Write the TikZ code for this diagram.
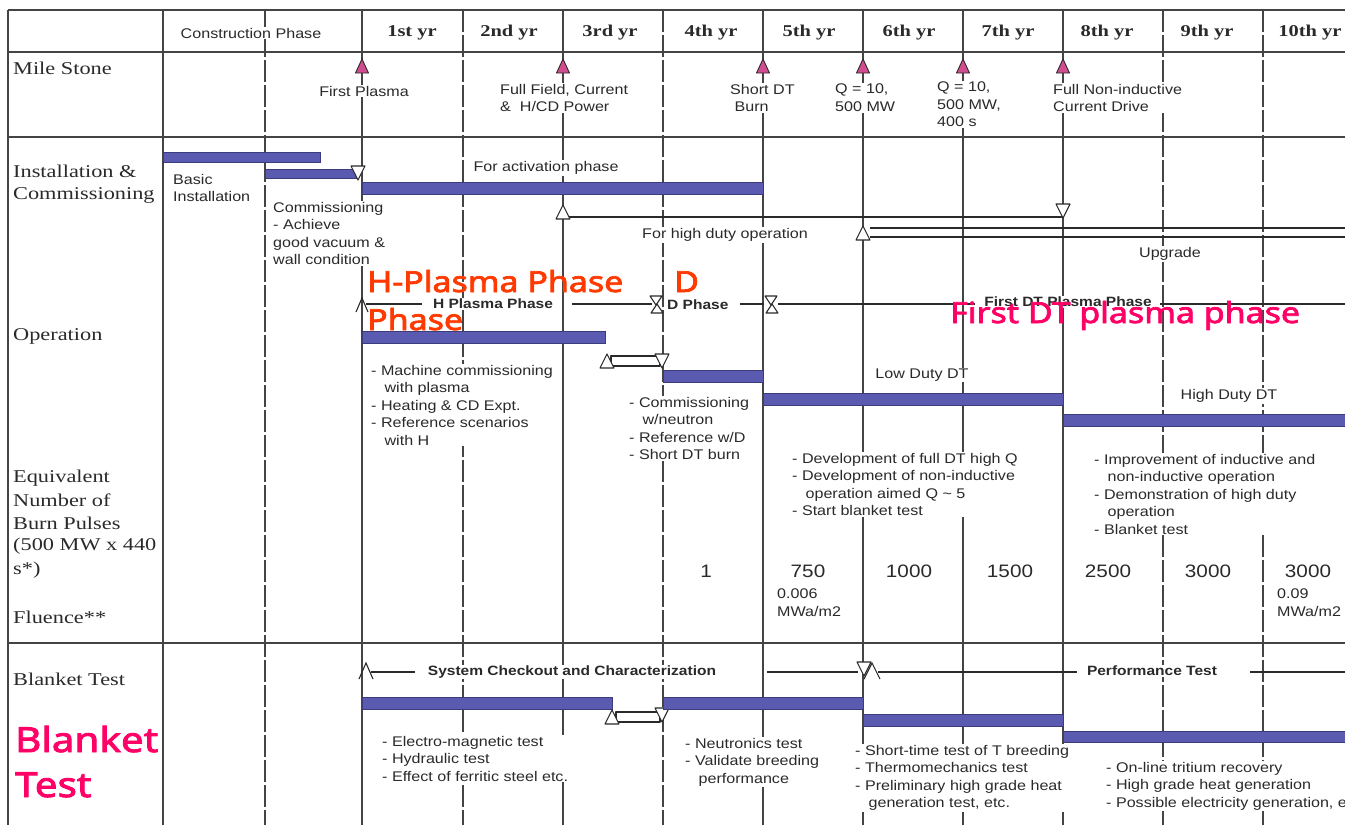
\documentclass[tikz,border=0pt]{standalone}
\usepackage{fontspec}
\setmainfont{Liberation Serif}
\setsansfont{Liberation Sans}
\newfontfamily\smfam[FakeStretch=1.15]{Liberation Sans}
\newfontfamily\lbfam[FakeStretch=1.24]{Liberation Serif}
\newfontfamily\ovfam[FakeStretch=1.17, FakeBold=2.5]{Noto Sans}
\definecolor{barblue}{HTML}{5A5AB0}
\definecolor{bardark}{HTML}{3C3C7C}
\definecolor{msfill}{HTML}{D04D8F}
\definecolor{gridc}{HTML}{444444}
\definecolor{ovred}{HTML}{FF3A00}
\definecolor{ovpink}{HTML}{FF0066}
\definecolor{inkc}{HTML}{2A2A2A}
\tikzset{
  gridv/.style={draw=gridc, line width=1.2pt},
  gridd/.style={draw=gridc, line width=1.1pt, dash pattern=on 22pt off 3pt},
  gridh/.style={draw=gridc, line width=1.7pt},
  bar/.style={fill=barblue, draw=bardark, line width=0.8pt},
  otri/.style={draw=inkc, fill=white, line width=1.1pt, line join=round},
  mtri/.style={draw=inkc, fill=msfill, line width=0.9pt, line join=round},
  conn/.style={draw=inkc, line width=1.1pt},
  sm/.style={font=\smfam\fontsize{14}{17.5}\selectfont, text=inkc, inner sep=1pt, fill=white, align=left},
  smb/.style={sm, font=\smfam\bfseries\fontsize{13.5}{16}\selectfont},
  num/.style={sm, font=\smfam\fontsize{18}{20}\selectfont},
  yr/.style={font=\lbfam\bfseries\fontsize{16.5}{18}\selectfont, text=inkc, fill=white, inner sep=1pt},
  lab/.style={font=\lbfam\fontsize{18}{23}\selectfont, text=inkc, anchor=west, inner sep=0pt},
  ovr/.style={font=\ovfam\fontsize{29}{34}\selectfont, text=ovred, inner sep=0pt, anchor=base west},
  ovp/.style={font=\ovfam\fontsize{29}{34}\selectfont, text=ovpink, inner sep=0pt, anchor=base west},
  ovb/.style={font=\ovfam\fontsize{34.5}{44}\selectfont, text=ovpink, inner sep=0pt, anchor=base west},
}
\newcommand\myms[1]{\draw[mtri] (#1-6.5,73) -- (#1,59) -- (#1+6.5,73) -- cycle;}
\newcommand\myup[2]{\draw[otri] (#1-7,#2) -- (#1,#2-14) -- (#1+7,#2) -- cycle;}
\newcommand\mydn[2]{\draw[otri] (#1-7,#2) -- (#1,#2+14) -- (#1+7,#2) -- cycle;}
\newcommand\myhg[1]{\draw[otri] (#1-6,296) -- (#1+6,296) -- (#1,305) -- cycle;
  \draw[otri] (#1-5,313) -- (#1+7,313) -- (#1+1,304) -- cycle;}
\begin{document}
\begin{tikzpicture}[x=1pt,y=-1pt]
\useasboundingbox (0,0) rectangle (1345,825);
\fill[white] (0,0) rectangle (1345,825);
% ---------- grid ----------
\foreach \x in {163,362,563,763,863,963,1063} \draw[gridv] (\x,10) -- (\x,825);
\foreach \x in {265,463,663,1163,1263} \draw[gridd] (\x,10) -- (\x,825);
\draw[gridh] (8,10) -- (1345,10);
\draw[gridh] (8,52) -- (1345,52);
\draw[gridh] (8,137) -- (1345,137);
\draw[gridh] (8,643) -- (1345,643);
\draw[gridh] (8,10) -- (8,825);
% ---------- header ----------
\node[sm] (hcon) at (251,33) {Construction Phase};
\node[yr] (y1) at (412,33) {1st yr};
\node[yr] (y2) at (509,33) {2nd yr};
\node[yr] (y3) at (610,33) {3rd yr};
\node[yr] (y4) at (711,33) {4th yr};
\node[yr] (y5) at (809,33) {5th yr};
\node[yr] (y6) at (909,33) {6th yr};
\node[yr] (y7) at (1008,33) {7th yr};
\node[yr] (y8) at (1107,33) {8th yr};
\node[yr] (y9) at (1207,33) {9th yr};
\node[yr] (y10) at (1310,33) {10th yr};
% ---------- left labels ----------
\node[lab] (lms) at (13,68) {Mile Stone};
\node[lab] (lin1) at (13,171) {Installation \&};
\node[lab] (lin2) at (13,195) {Commissioning};
\node[lab] (lop) at (13,336) {Operation};
\node[lab] (leq1) at (13,478) {Equivalent};
\node[lab] (leq2) at (13,500) {Number of};
\node[lab] (leq3) at (13,523) {Burn Pulses};
\node[lab] (leq4) at (13,546) {(500 MW x 440};
\node[lab] (leq5) at (13,570) {s*)};
\node[lab] (lfl) at (13,617) {Fluence**};
\node[lab] (lbt) at (13,679) {Blanket Test};
% ---------- milestones ----------
\myms{362}\myms{563}\myms{763}\myms{863}\myms{963}\myms{1063}
\node[sm] (m1) at (364,91) {First Plasma};
\node[sm, anchor=north west] (m2) at (499,83) {Full Field, Current\\\&\ \ H/CD Power};
\node[sm, anchor=north west] (m3) at (729,83) {Short DT\\\ Burn};
\node[sm, anchor=north west] (m4) at (834,83) {Q = 10,\\500 MW};
\node[sm, anchor=north west] (m5) at (936,81) {Q = 10,\\500 MW,\\400 s};
\node[sm, anchor=north west] (m6) at (1052,83) {Full Non-inductive\\Current Drive};
% ---------- installation & commissioning ----------
\draw[bar] (163,152) rectangle (320,162);
\draw[bar] (265,169) rectangle (356,178);
\draw[bar] (362,182) rectangle (763,194);
\mydn{358}{166}
\node[sm, anchor=north west] (ib) at (172,173) {Basic\\Installation};
\node[sm, anchor=north west] (ic) at (272,201) {Commissioning\\- Achieve\\good vacuum \&\\wall condition};
\node[sm] (iact) at (546,168) {For activation phase};
\draw[conn] (568,217) -- (1063,217);
\myup{563}{219}
\mydn{1063}{204}
\node[sm] (ihd) at (725,235) {For high duty operation};
\draw[conn] (870,228) -- (1345,228);
\draw[conn] (870,237) -- (1345,237);
\myup{863}{240}
\node[sm] (iup) at (1170,254) {Upgrade};
% ---------- operation ----------
\draw[conn] (356,312) -- (362,298) -- (368,312);
\draw[conn] (366,304) -- (422,304);
\node[smb] (oh) at (493,304) {H Plasma Phase};
\draw[conn] (572,304) -- (652,304);
\myhg{656}
\node[smb, anchor=west] (od) at (666,305) {D Phase};
\draw[conn] (740,304) -- (764,304);
\myhg{771}
\draw[conn] (778,304) -- (975,304);
\node[smb] (odt) at (1068,302) {First DT Plasma Phase};
\draw[conn] (1160,304) -- (1345,304);
\draw[bar] (362,331) rectangle (605,343);
\draw[otri] (611,356) rectangle (660,366);
\myup{607}{368}
\mydn{662}{354}
\draw[bar] (663,370) rectangle (763,382);
\draw[bar] (763,393) rectangle (1063,405);
\draw[bar] (1063,414) rectangle (1345,426);
\node[sm] (olow) at (922,375) {Low Duty DT};
\node[sm] (ohigh) at (1229,396) {High Duty DT};
\node[sm, anchor=north west] (ot1) at (370,364) {- Machine commissioning\\\ \ \ with plasma\\- Heating \& CD Expt.\\- Reference scenarios\\\ \ \ with H};
\node[sm, anchor=north west] (ot2) at (628,396) {- Commissioning\\\ \ \ w/neutron\\- Reference w/D\\- Short DT burn};
\node[sm, anchor=north west] (ot3) at (791,452) {- Development of full DT high Q\\- Development of non-inductive\\\ \ \ operation aimed Q \textasciitilde\ 5\\- Start blanket test};
\node[sm, anchor=north west] (ot4) at (1093,453) {- Improvement of inductive and\\\ \ \ non-inductive operation\\- Demonstration of high duty\\\ \ \ operation\\- Blanket test};
% ---------- numbers ----------
\node[num] (n4) at (706,571) {1};
\node[num] (n5) at (808,571) {750};
\node[num] (n6) at (909,571) {1000};
\node[num] (n7) at (1010,571) {1500};
\node[num] (n8) at (1108,571) {2500};
\node[num] (n9) at (1208,571) {3000};
\node[num] (n10) at (1308,571) {3000};
\node[sm, anchor=north west] (f5) at (776,588) {0.006\\MWa/m2};
\node[sm, anchor=north west] (f10) at (1276,588) {0.09\\MWa/m2};
% ---------- blanket test ----------
\draw[conn] (359,679) -- (366,663) -- (373,679);
\draw[conn] (371,672) -- (415,672);
\node[smb] (bsys) at (572,672) {System Checkout and Characterization};
\draw[conn] (767,672) -- (858,672);
\mydn{864}{662}
\draw[conn] (864,679) -- (872,663) -- (880,679);
\draw[conn] (878,672) -- (1077,672);
\node[smb] (bperf) at (1152,671) {Performance Test};
\draw[conn] (1250,672) -- (1345,672);
\draw[bar] (362,697) rectangle (612,709);
\draw[otri] (616,712) rectangle (660,722);
\myup{612}{724}
\mydn{662}{708}
\draw[bar] (663,697) rectangle (863,709);
\draw[bar] (863,714) rectangle (1063,726);
\draw[bar] (1063,731) rectangle (1345,742);
\node[sm, anchor=north west] (bt1) at (381,735) {- Electro-magnetic test\\- Hydraulic test\\- Effect of ferritic steel etc.};
\node[sm, anchor=north west] (bt2) at (684,737) {- Neutronics test\\- Validate breeding\\\ \ \ performance};
\node[sm, anchor=north west] (bt3) at (854,744) {- Short-time test of T breeding\\- Thermomechanics test\\- Preliminary high grade heat\\\ \ \ generation test, etc.};
\node[sm, anchor=north west] (bt4) at (1105,761) {- On-line tritium recovery\\- High grade heat generation\\- Possible electricity generation, etc.};
% ---------- overlays ----------
\node[ovr] (ovh) at (367,292) {H-Plasma Phase};
\node[ovr] (ovh2) at (367,330) {Phase};
\node[ovr] (ovd) at (674,292) {D};
\node[ovp] (ovdt) at (950,323) {First DT plasma phase};
\node[ovb] (ovb1) at (15,752) {Blanket};
\node[ovb] (ovb2) at (15,797) {Test};
\end{tikzpicture}
\end{document}
